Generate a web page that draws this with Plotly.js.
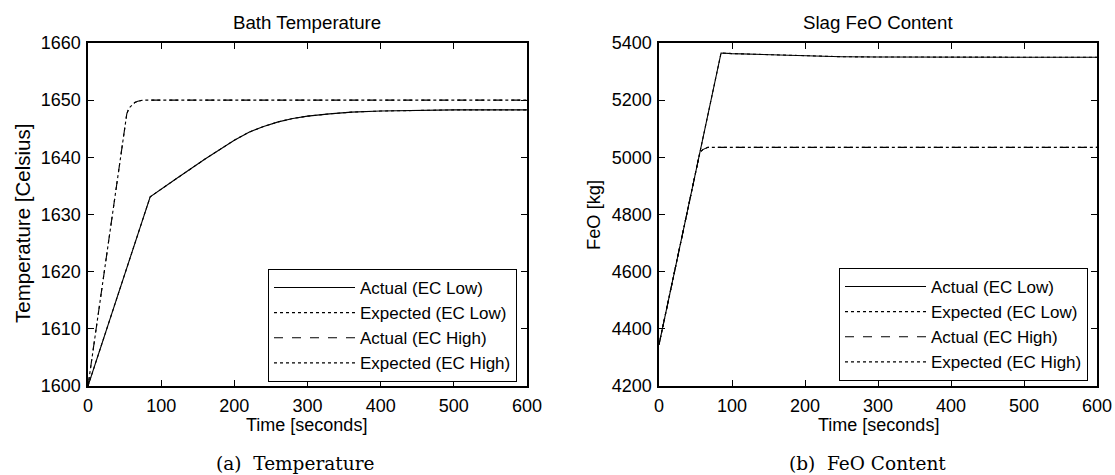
<!DOCTYPE html>
<html>
<head>
<meta charset="utf-8">
<script src="https://cdn.plot.ly/plotly-3.0.1.min.js"></script>
<style>html,body{margin:0;padding:0;background:#fff;}#chart{width:1115px;height:475px;}</style>
</head>
<body>
<div id="chart"></div>
<script>
// ---- Data ----
const tempTimeLow = [0, 85, 120, 160, 200, 220, 240, 260, 280, 300, 330, 360, 400, 450, 500, 600];
const tempLow     = [1600, 1633.1, 1636.2, 1639.7, 1643.0, 1644.4, 1645.4, 1646.2, 1646.8, 1647.2, 1647.6, 1647.9, 1648.1, 1648.2, 1648.3, 1648.3];
const tempTimeHigh = [0, 45, 50, 53, 56, 60, 64, 68, 75, 100, 200, 300, 400, 500, 600];
const tempHigh     = [1600, 1641, 1645.3, 1647.6, 1648.6, 1649.2, 1649.6, 1649.8, 1650, 1650, 1650, 1650, 1650, 1650, 1650];

const feoTimeLow = [0, 85, 100, 150, 200, 250, 300, 400, 500, 600];
const feoLow     = [4345, 5365, 5363, 5359, 5355, 5352, 5351, 5350, 5350, 5350];
const feoTimeHigh = [0, 56, 60, 64, 67, 80, 100, 200, 300, 400, 500, 600];
const feoHigh     = [4345, 5017, 5027, 5033, 5035, 5035, 5035, 5035, 5035, 5035, 5035, 5035];

const seriesNames = ['Actual (EC Low)', 'Expected (EC Low)', 'Actual (EC High)', 'Expected (EC High)'];
const xTicks = [0, 100, 200, 300, 400, 500, 600];
const tempTicks = [1600, 1610, 1620, 1630, 1640, 1650, 1660];
const feoTicks = [4200, 4400, 4600, 4800, 5000, 5200, 5400];

// ---- Styling ----
const W = 1115, H = 475;
const FONT = "'Liberation Sans', Arial, Helvetica, sans-serif";
const SERIF = "'DejaVu Serif', serif";
const px = v => v / W, py = v => 1 - v / H;

function tr(x, y, name, dash, xa, ya, leg) {
  return {
    x: x, y: y, name: name, type: 'scatter', mode: 'lines',
    line: {color: '#000', width: 1.1, dash: dash},
    xaxis: xa, yaxis: ya, legend: leg, showlegend: true
  };
}

const traces = [
  tr(tempTimeLow, tempLow, seriesNames[0], 'solid', 'x', 'y', 'legend'),
  tr(tempTimeLow, tempLow, seriesNames[1], 'dot', 'x', 'y', 'legend'),
  tr(tempTimeHigh, tempHigh, seriesNames[2], 'dash', 'x', 'y', 'legend'),
  tr(tempTimeHigh, tempHigh, seriesNames[3], 'dot', 'x', 'y', 'legend'),
  tr(feoTimeLow, feoLow, seriesNames[0], 'solid', 'x2', 'y2', 'legend2'),
  tr(feoTimeLow, feoLow, seriesNames[1], 'dot', 'x2', 'y2', 'legend2'),
  tr(feoTimeHigh, feoHigh, seriesNames[2], 'dash', 'x2', 'y2', 'legend2'),
  tr(feoTimeHigh, feoHigh, seriesNames[3], 'dot', 'x2', 'y2', 'legend2')
];

function axis(domain, range, ticks, anchor, isX) {
  return {
    domain: domain, range: range, anchor: anchor,
    tickmode: 'array', tickvals: ticks, ticktext: ticks.map(String),
    ticks: 'inside', ticklen: 6, tickwidth: 1, tickcolor: '#000',
    showline: true, linecolor: '#000', linewidth: 1.6, mirror: 'ticks',
    showgrid: false, zeroline: false,
    ticklabelstandoff: isX ? 3 : 2,
    tickfont: {family: FONT, size: 18, color: '#000'}
  };
}

const yDom = [py(386), py(43)];
const legendCommon = {
  bgcolor: '#fff', bordercolor: '#000', borderwidth: 1,
  font: {family: FONT, size: 17, color: '#000'},
  xanchor: 'right', yanchor: 'bottom', itemwidth: 81,
  tracegroupgap: 0
};

const ann = (text, x, y, size, opts) => Object.assign({
  text: text, xref: 'paper', yref: 'paper', x: px(x), y: py(y),
  xanchor: 'center', yanchor: 'middle', showarrow: false,
  font: {family: FONT, size: size, color: '#000'}
}, opts || {});

const layout = {
  width: W, height: H,
  margin: {l: 0, r: 0, t: 0, b: 0},
  paper_bgcolor: '#fff', plot_bgcolor: '#fff',
  xaxis: axis([px(88), px(527)], [0, 600], xTicks, 'y', true),
  yaxis: axis(yDom, [1600, 1660], tempTicks, 'x', false),
  xaxis2: axis([px(659), px(1097)], [0, 600], xTicks, 'y2', true),
  yaxis2: axis(yDom, [4200, 5400], feoTicks, 'x2', false),
  legend: Object.assign({x: px(517), y: py(382)}, legendCommon),
  legend2: Object.assign({x: px(1088), y: py(381)}, legendCommon),
  annotations: [
    ann('Bath Temperature', 307, 23, 18.7),
    ann('Slag FeO Content', 878, 23, 18.7),
    ann('Time [seconds]', 307, 425, 18),
    ann('Time [seconds]', 878, 425, 18),
    ann('Temperature [Celsius]', 22, 224, 20.5, {textangle: -90}),
    ann('FeO [kg]', 593, 215, 18.3, {textangle: -90}),
    ann('(a)  Temperature', 295, 463, 18.5, {font: {family: SERIF, size: 18.5, color: '#000'}}),
    ann('(b)  FeO Content', 867, 463, 18.5, {font: {family: SERIF, size: 18.5, color: '#000'}})
  ]
};

Plotly.newPlot('chart', traces, layout, {staticPlot: true, displayModeBar: false});
</script>
</body>
</html>
